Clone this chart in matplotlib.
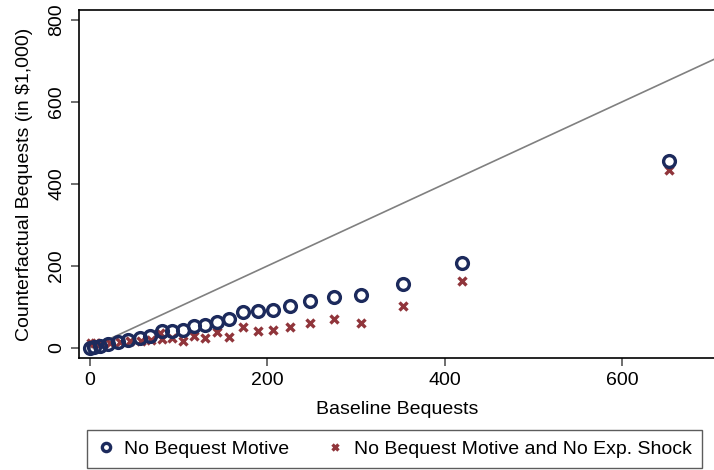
import numpy as np
import matplotlib.pyplot as plt

plt.rcParams['font.family'] = ['Liberation Sans', 'DejaVu Sans']

# baseline bequests (x) and counterfactual bequests (y), in $1,000
base_nbm = [0, 4, 11, 20, 32, 43, 56, 68, 81, 93, 105, 117, 130, 143, 157,
            172, 189, 206, 225, 248, 275, 306, 353, 420, 653]
cf_nbm = [0, 3, 6, 10, 15, 20, 25, 30, 42, 41, 44, 53, 55, 64, 71,
          88, 90, 92, 102, 115, 125, 128, 157, 206, 457]

base_nbs = [1, 6, 13, 22, 34, 45, 57, 69, 79, 81, 93, 105, 117, 130, 143,
            157, 172, 189, 206, 225, 248, 275, 306, 353, 420, 653]
cf_nbs = [12, 13, 12, 12, 15, 17, 18, 20, 37, 22, 24, 18, 29, 24, 38,
          28, 50, 42, 44, 50, 60, 70, 61, 102, 164, 435]

navy = '#1c2a5c'
maroon = '#90353b'
fs = 14

fig = plt.figure(figsize=(7.14, 4.70), dpi=100)
ax = fig.add_axes([79 / 714, 1 - 358 / 470, 1.002 - 79 / 714, 348 / 470])

# 45-degree reference line
diag = np.array([0, 720])
ax.plot(diag, diag, color='#808080', lw=1.2, zorder=1)

ax.plot(base_nbm, cf_nbm, linestyle='none', marker='o', ms=8.5,
        mfc='none', mec=navy, mew=2.4, label='No Bequest Motive', zorder=3)
ax.plot(base_nbs, cf_nbs, linestyle='none', marker='x', ms=5.5,
        mec=maroon, mew=2.4, label='No Bequest Motive and No Exp. Shock', zorder=2)

ax.set_xlim(-12.4, 705.3)
ax.set_ylim(-24.4, 824)
ax.set_xticks([0, 200, 400, 600])
ax.set_yticks([0, 200, 400, 600, 800])
ax.tick_params(axis='both', direction='out', length=6, width=1.2,
               color='#555555', labelsize=fs, pad=4)
ax.tick_params(axis='y', labelrotation=90)
for lab in ax.get_yticklabels():
    lab.set_va('center')
for side in ['left', 'bottom', 'top', 'right']:
    ax.spines[side].set_linewidth(1.2)
    ax.spines[side].set_color('black')

ax.set_xlabel('Baseline Bequests', fontsize=fs, labelpad=9)
ax.set_ylabel('Counterfactual Bequests (in \\$1,000)', fontsize=fs, labelpad=11)

handles, labels = ax.get_legend_handles_labels()
leg = fig.legend(handles, labels, loc='upper left', ncol=2,
                 bbox_to_anchor=(87 / 714, 1 - 430 / 470), fontsize=fs,
                 frameon=True, fancybox=False, edgecolor='#333333',
                 borderaxespad=0, columnspacing=1.9, handletextpad=0.5,
                 handlelength=0.9, markerscale=0.7, borderpad=0.52,
                 handleheight=0.7)
leg.get_frame().set_linewidth(1.0)

fig.savefig('out.png', dpi=100)
